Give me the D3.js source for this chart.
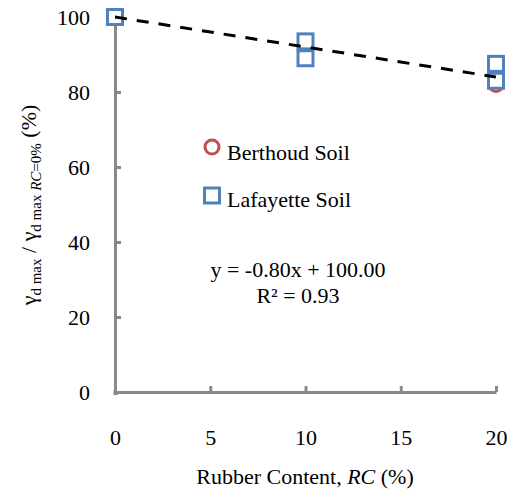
<!DOCTYPE html>
<html>
<head>
<meta charset="utf-8">
<script src="https://cdn.jsdelivr.net/npm/d3@7"></script>
</head>
<body style="margin:0">
<script>
// data
var berthoudRC = [0, 10, 20];
var berthoudVal = [100, 91, 82];
var lafayetteRC = [0, 10, 10, 20, 20];
var lafayetteVal = [100, 93.5, 89, 87.5, 83];
var xTicks = [0, 5, 10, 15, 20];
var yTicks = [0, 20, 40, 60, 80, 100];
var trendSlope = -0.80, trendIntercept = 100.00, trendR2 = 0.93;

var fontName = "Times New Roman";
var width = 510, height = 492;
var svg = d3.select("body").append("svg")
  .attr("width", width)
  .attr("height", height);

var x = d3.scaleLinear().domain([0, 20]).range([115, 496]);
var y = d3.scaleLinear().domain([0, 100]).range([392, 17]);

var axisColor = "#898989";

// y axis
var yAxis = svg.append("g")
  .attr("transform", "translate(" + x(0) + ",0)")
  .call(d3.axisLeft(y).tickValues(yTicks).tickSizeInner(-6).tickSizeOuter(0).tickPadding(25));
// x axis
var xAxis = svg.append("g")
  .attr("transform", "translate(0," + y(0) + ")")
  .call(d3.axisBottom(x).tickValues(xTicks).tickSizeInner(-6).tickSizeOuter(0).tickPadding(37));

[yAxis, xAxis].forEach(function(a) {
  a.attr("font-family", null).attr("font-size", null);
  a.select(".domain").attr("stroke", axisColor).attr("stroke-width", 3);
  a.selectAll(".tick line").attr("stroke", axisColor).attr("stroke-width", 3);
  a.selectAll(".tick text")
    .style("font-family", function() { return "'" + fontName + "'"; })
    .style("font-size", "22px")
    .attr("fill", "#000");
});
// close the corner
svg.append("path")
  .attr("d", "M" + x(0) + "," + (y(0) - 2) + "V" + (y(0) + 1.5) + "H" + (x(0) + 3))
  .attr("stroke", axisColor).attr("stroke-width", 3).attr("fill", "none");

// series: Berthoud circles (drawn first)
var berthoud = berthoudRC.map(function(d, i) { return { x: d, v: berthoudVal[i] }; });
var lafayette = lafayetteRC.map(function(d, i) { return { x: d, v: lafayetteVal[i] }; });

var rad = 7;
svg.selectAll("circle.b").data(berthoud).enter().append("circle")
  .attr("class", "b")
  .attr("cx", function(d) { return x(d.x); })
  .attr("cy", function(d) { return y(d.v); })
  .attr("r", rad)
  .attr("fill", "#fff")
  .attr("stroke", "#C0504D")
  .attr("stroke-width", 3);

var sq = 15;
svg.selectAll("rect.l").data(lafayette).enter().append("rect")
  .attr("class", "l")
  .attr("x", function(d) { return x(d.x) - sq / 2; })
  .attr("y", function(d) { return y(d.v) - sq / 2; })
  .attr("width", sq)
  .attr("height", sq)
  .attr("fill", "#fff")
  .attr("stroke", "#4F81BD")
  .attr("stroke-width", 3);

// linear trendline
svg.append("line")
  .attr("x1", x(0)).attr("y1", y(trendIntercept))
  .attr("x2", x(20)).attr("y2", y(trendIntercept + trendSlope * 20))
  .attr("stroke", "#000")
  .attr("stroke-width", 3)
  .attr("stroke-dasharray", "12,10");

// texts
var labels = [
  { x: 227, y: 160, anchor: "start", t: "Berthoud Soil" },
  { x: 227, y: 207, anchor: "start", t: "Lafayette Soil" },
  { x: 298, y: 277, anchor: "middle", t: "y = " + trendSlope.toFixed(2) + "x + " + trendIntercept.toFixed(2) },
  { x: 298, y: 303, anchor: "middle", t: "R² = " + trendR2.toFixed(2) }
];
svg.selectAll("text.lab").data(labels).enter().append("text")
  .attr("class", "lab")
  .attr("x", function(d) { return d.x; })
  .attr("y", function(d) { return d.y; })
  .attr("text-anchor", function(d) { return d.anchor; })
  .style("font-family", function() { return "'" + fontName + "'"; })
  .style("font-size", "22px")
  .text(function(d) { return d.t; });

// legend markers
svg.append("circle").attr("cx", 212).attr("cy", 147).attr("r", rad)
  .attr("fill", "#fff").attr("stroke", "#C0504D").attr("stroke-width", 3);
svg.append("rect").attr("x", 212 - sq / 2).attr("y", 188).attr("width", sq).attr("height", sq)
  .attr("fill", "#fff").attr("stroke", "#4F81BD").attr("stroke-width", 3);

// x axis title
var xt = svg.append("text").attr("x", 305).attr("y", 484).attr("text-anchor", "middle")
  .style("font-family", function() { return "'" + fontName + "'"; })
  .style("font-size", "22px");
xt.append("tspan").text("Rubber Content, ");
xt.append("tspan").style("font-style", "italic").text("RC");
xt.append("tspan").text(" (%)");

// y axis title
var yt = svg.append("text")
  .attr("transform", "translate(36,205) rotate(-90)")
  .attr("text-anchor", "middle")
  .style("font-family", function() { return "'" + fontName + "'"; })
  .style("font-size", "22px");
yt.append("tspan").text("γ");
yt.append("tspan").attr("dy", 5).style("font-size", "15px").text("d max");
yt.append("tspan").attr("dy", -5).text(" / γ");
yt.append("tspan").attr("dy", 5).style("font-size", "15px").text("d max ");
yt.append("tspan").style("font-size", "15px").style("font-style", "italic").text("RC");
yt.append("tspan").style("font-size", "15px").text("=0%");
yt.append("tspan").attr("dy", -5).text("  (%)");
</script>
</body>
</html>
